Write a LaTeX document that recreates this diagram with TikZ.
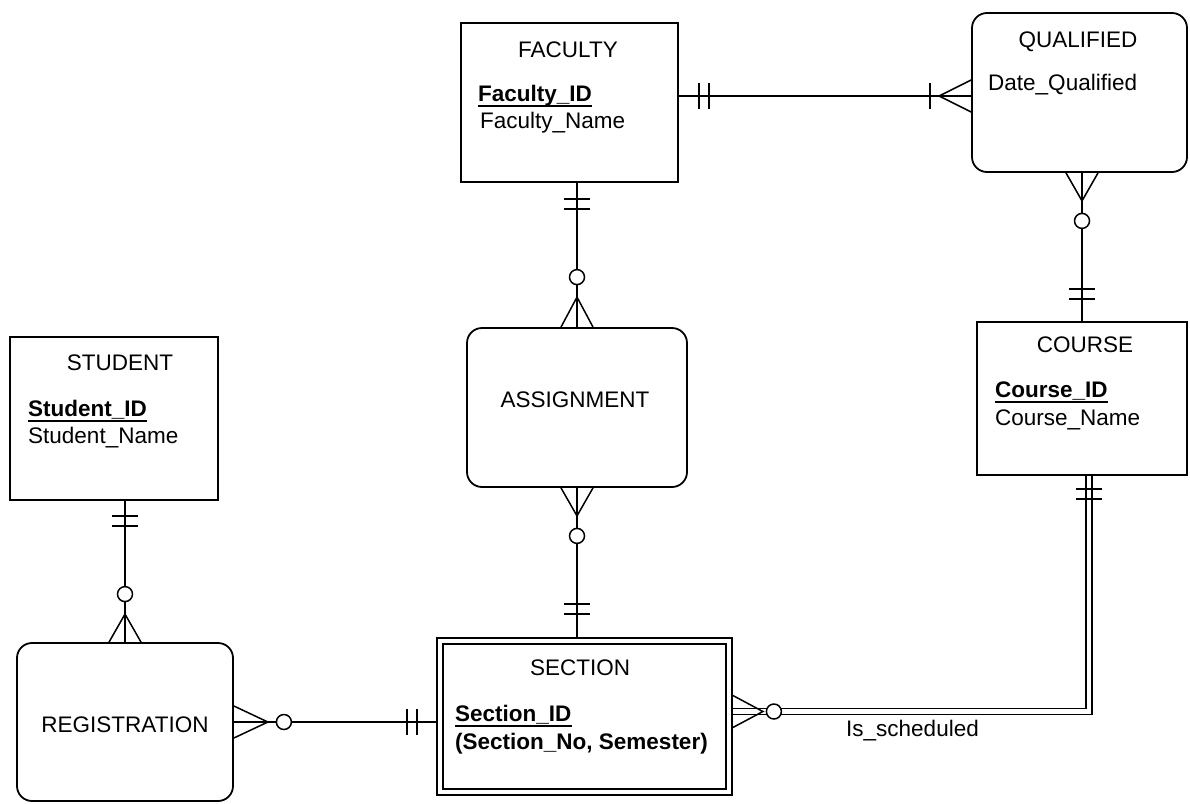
\documentclass[tikz,border=0pt]{standalone}
\usepackage{fontspec}
\setmainfont{Liberation Sans}
\usetikzlibrary{calc}
\tikzset{
  ent/.style={draw, line width=1.8pt, inner sep=0pt},
  relbox/.style={draw, line width=1.8pt, rounded corners=15pt, inner sep=0pt},
  txt/.style={inner sep=0pt, font=\fontsize{22.5}{26}\selectfont},
  keytxt/.style={inner sep=0pt, font=\fontsize{22.5}{26}\selectfont\bfseries},
  conn/.style={line width=1.5pt},
  uline/.style={line width=1.5pt},
  pics/crowfoot/.style={code={\draw[conn] (0,-16) -- (#1,0) -- (0,16);}},
  pics/ringmark/.style={code={\draw[conn, fill=white] (#1,0) circle[radius=7.5pt];}},
  pics/barmark/.style={code={\draw[conn] (#1,-13) -- (#1,13);}},
}
\begin{document}
\begin{tikzpicture}[x=1pt, y=-1pt]
\useasboundingbox (0,0) rectangle (1190,803);

% boxes
\node[ent, minimum width=217pt, minimum height=159pt] (faculty) at (569.5,102.5) {};
\node[relbox, minimum width=215pt, minimum height=159pt] (qualified) at (1079.5,92.5) {};
\node[ent, minimum width=208pt, minimum height=163pt] (student) at (114,418.5) {};
\node[ent, minimum width=210pt, minimum height=153pt] (course) at (1082,398.5) {};
\node[relbox, minimum width=220pt, minimum height=159pt] (assignment) at (577,407.5) {};
\node[relbox, minimum width=216pt, minimum height=158pt] (registration) at (125,722) {};
\node[ent, minimum width=295pt, minimum height=157pt] (section) at (584.5,716.5) {};
\draw[line width=1.8pt] ([shift={(7pt,-7pt)}]section.north west) rectangle ([shift={(-7pt,7pt)}]section.south east);

% texts
\node[txt, anchor=base] (facT) at (568,57) {FACULTY};
\node[keytxt, anchor=base west] (facK) at (478,101) {Faculty\_ID};
\node[txt, anchor=base west] (facN) at (480,128) {Faculty\_Name};
\draw[uline] ([yshift=-5pt]facK.base west) -- ([yshift=-5pt]facK.base east);

\node[txt, anchor=base] (quaT) at (1078,47) {QUALIFIED};
\node[txt, anchor=base west] (quaD) at (988,90) {Date\_Qualified};

\node[txt, anchor=base] (stuT) at (120,370) {STUDENT};
\node[keytxt, anchor=base west] (stuK) at (28,416) {Student\_ID};
\node[txt, anchor=base west] (stuN) at (28,443) {Student\_Name};
\draw[uline] ([yshift=-5pt]stuK.base west) -- ([yshift=-5pt]stuK.base east);

\node[txt, anchor=base] (couT) at (1085,352) {COURSE};
\node[keytxt, anchor=base west] (couK) at (995,397) {Course\_ID};
\node[txt, anchor=base west] (couN) at (995,425) {Course\_Name};
\draw[uline] ([yshift=-5pt]couK.base west) -- ([yshift=-5pt]couK.base east);

\node[txt, anchor=base] (secT) at (580,675) {SECTION};
\node[keytxt, anchor=base west] (secK) at (455,721) {Section\_ID};
\node[keytxt, anchor=base west] (secN) at (455,749) {(Section\_No, Semester)};
\draw[uline] ([yshift=-5pt]secK.base west) -- ([yshift=-5pt]secK.base east);

\node[txt] (assT) at (575,400) {ASSIGNMENT};
\node[txt] (regT) at (125,725) {REGISTRATION};
\node[txt, anchor=base west] (schedT) at (846,736) {Is\_scheduled};

% connector coordinates
\coordinate (fq1) at ([yshift=6.5pt]faculty.east);
\coordinate (fq2) at (qualified.west |- fq1);
\coordinate (fa1) at (assignment.north |- faculty.south);
\coordinate (fa2) at (assignment.north);
\coordinate (as1) at (assignment.south);
\coordinate (as2) at (assignment.south |- section.north);
\coordinate (qc1) at (course.north |- qualified.south);
\coordinate (qc2) at (course.north);
\coordinate (sr1) at (registration.north |- student.south);
\coordinate (sr2) at (registration.north);
\coordinate (rs1) at (registration.east);
\coordinate (rs2) at (registration.east -| section.west);
\coordinate (sc1) at ([yshift=5pt]section.east);
\coordinate (sc2) at ([xshift=7pt]course.south);

% connectors
\draw[conn] (fq1) -- (fq2);
\draw[conn] (fa1) -- (fa2);
\draw[conn] (as1) -- (as2);
\draw[conn] (qc1) -- (qc2);
\draw[conn] (sr1) -- (sr2);
\draw[conn] (rs1) -- (rs2);
\draw[line width=1.3pt, double, double distance=4.5pt] (sc2) |- (sc1);

% marks
\pic at (fq1) {barmark=20};
\pic at (fq1) {barmark=30};
\pic[rotate=180] at (fq2) {crowfoot=32};
\pic[rotate=180] at (fq2) {barmark=41};

\pic[rotate=-90] at (fa1) {barmark=16};
\pic[rotate=-90] at (fa1) {barmark=26};
\pic[rotate=90] at (fa2) {crowfoot=30};
\pic[rotate=90] at (fa2) {ringmark=50};

\pic[rotate=-90] at (as1) {crowfoot=28};
\pic[rotate=-90] at (as1) {ringmark=48};
\pic[rotate=90] at (as2) {barmark=23};
\pic[rotate=90] at (as2) {barmark=33};

\pic[rotate=-90] at (qc1) {crowfoot=28};
\pic[rotate=-90] at (qc1) {ringmark=48};
\pic[rotate=90] at (qc2) {barmark=22};
\pic[rotate=90] at (qc2) {barmark=32};

\pic[rotate=-90] at (sr1) {barmark=15};
\pic[rotate=-90] at (sr1) {barmark=25};
\pic[rotate=90] at (sr2) {crowfoot=28};
\pic[rotate=90] at (sr2) {ringmark=48};

\pic at (rs1) {crowfoot=34};
\pic at (rs1) {ringmark=50};
\pic[rotate=180] at (rs2) {barmark=19};
\pic[rotate=180] at (rs2) {barmark=29};

\pic at (sc1) {crowfoot=30};
\pic at (sc1) {ringmark=41};
\pic[rotate=-90] at (sc2) {barmark=13};
\pic[rotate=-90] at (sc2) {barmark=23};
\end{tikzpicture}
\end{document}
